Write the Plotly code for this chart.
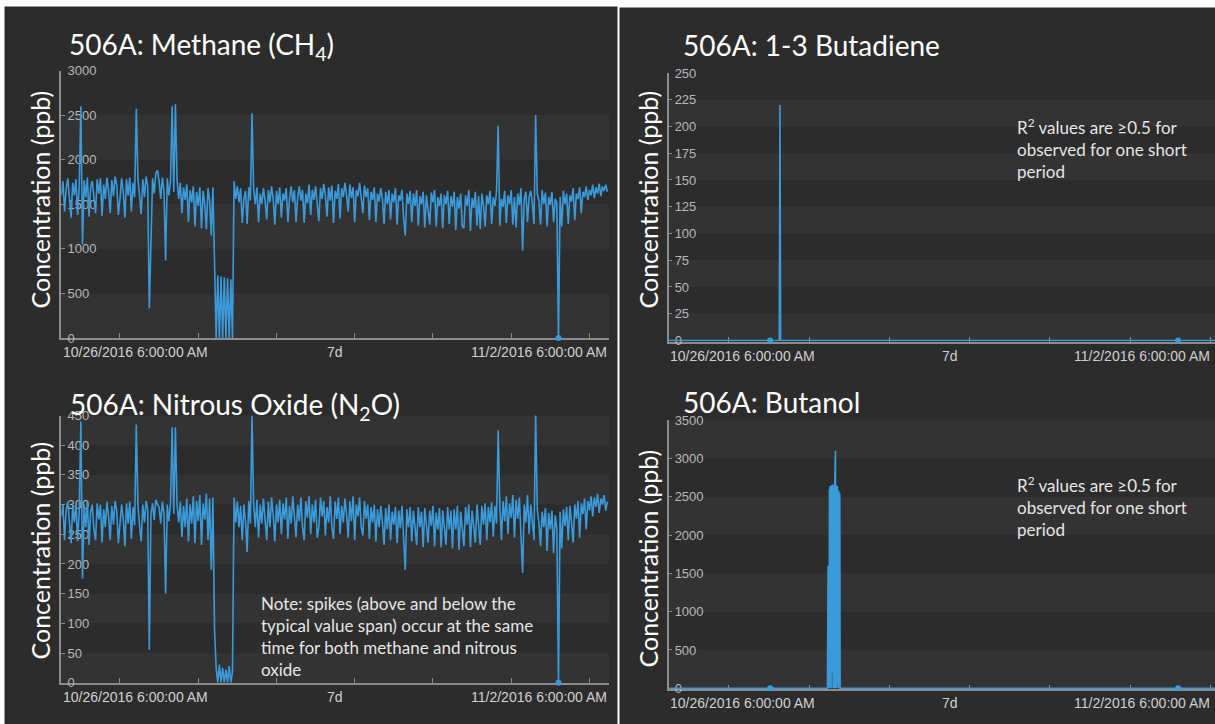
import pandas as pd
import plotly.graph_objects as go

W, H = 1215, 724
START = pd.Timestamp("2016-10-26 06:00")
END7 = pd.Timestamp("2016-11-02 06:00")

# ---- data (30-minute readings from 10/26/2016 06:00) ----
methane_ppb = [
    1600,1760,1420,1680,1790,1560,1350,1740,1600,1780,1380,1700,2600,1050,1770,1580,1800,1360,1690,1760,1540,1400,1780,1620,
    1790,1370,1720,1560,1800,1650,1400,1770,1590,1810,1720,1380,1560,1790,1640,1350,1780,1600,1800,1420,1740,1580,2570,1790,
    1600,1390,1780,1580,1810,1700,330,990,1790,1620,1850,1880,1760,1560,1800,1650,870,1790,1600,1760,2600,1640,2620,1780,
    1560,1740,1400,1690,1550,1720,1300,1660,1520,1700,1250,1640,1480,1690,1230,1650,1500,1220,1680,1540,1150,1690,750,0,
    700,0,690,0,680,0,670,0,660,0,1760,1560,1700,1520,1680,1290,1560,1650,1280,1690,1540,2520,1660,1500,
    1690,1300,1620,1500,1680,1540,1330,1660,1520,1700,1560,1270,1650,1500,1690,1350,1620,1540,1680,1300,1560,1700,1520,1660,
    1300,1580,1700,1540,1660,1290,1620,1510,1720,1380,1660,1550,1700,1520,1310,1680,1560,1730,1600,1360,1690,1540,1710,1290,
    1650,1560,1730,1340,1680,1580,1740,1600,1420,1720,1570,1690,1300,1660,1590,1740,1560,1400,1710,1580,1680,1320,1640,1550,
    1690,1300,1620,1530,1680,1560,1280,1640,1500,1660,1330,1620,1520,1680,1270,1600,1540,1660,1350,1150,1620,1500,1650,1300,
    1620,1480,1660,1260,1590,1500,1640,1240,1600,1460,1270,1630,1520,1660,1250,1580,1480,1620,1230,1600,1500,1650,1280,1590,
    1470,1640,1210,1580,1450,1620,1250,1230,1600,1480,1660,1200,1570,1460,1640,1260,1590,1220,1620,1480,1250,1600,1500,1650,
    1280,1580,1480,1640,2380,1260,1560,1470,1650,1290,1600,1500,1660,1270,1580,1240,1620,1490,1680,980,1560,1640,1300,1580,
    1650,1500,1280,2500,1620,1540,1270,1660,1500,1630,1250,1580,1490,1640,1300,1560,1520,0,1580,1250,1650,1500,1620,1280,
    1600,1530,1680,1320,1620,1560,1690,1400,1640,1580,1700,1550,1660,1600,1720,1570,1690,1620,1730,1590,1700,1650,1720,1640,
]
n2o_ppb = [
    280,300,240,292,305,265,235,298,270,302,238,290,440,175,300,262,305,232,288,300,258,240,302,275,
    300,236,292,262,305,280,240,298,266,306,290,235,262,300,276,230,302,268,305,242,296,265,435,300,
    265,238,300,270,306,292,55,285,302,274,308,300,296,268,305,285,150,300,272,302,430,284,430,300,
    270,305,245,298,262,310,238,300,268,314,235,306,272,316,232,302,275,318,240,310,190,312,90,25,
    0,30,0,25,0,22,0,28,0,18,312,270,305,262,298,240,300,272,220,306,268,450,300,262,
    308,244,300,268,310,276,240,305,262,312,282,238,300,270,308,250,302,275,312,242,298,268,314,280,
    245,300,272,312,262,240,306,278,314,250,300,270,308,244,262,312,280,306,248,296,270,314,262,242,
    305,276,312,250,298,270,310,284,244,306,272,314,240,300,280,312,262,248,306,276,300,242,296,270,
    300,238,292,262,298,270,232,294,258,300,240,288,266,296,235,290,260,298,242,190,292,262,296,238,
    290,256,232,296,262,288,228,294,260,236,290,264,298,230,286,258,294,228,290,262,232,296,258,290,
    226,292,258,298,224,288,262,230,296,266,300,228,290,260,236,300,270,232,298,266,302,240,296,270,
    304,246,298,268,425,300,240,306,272,314,250,302,278,316,244,308,276,312,248,185,300,270,316,250,
    300,262,240,455,292,270,230,288,262,294,222,286,258,290,218,282,260,0,288,226,292,264,296,240,
    298,270,236,300,276,306,244,302,284,310,258,306,290,314,280,312,296,318,286,310,300,316,290,305,
]
# hours after 10/26/2016 06:00
butadiene_hours = [0, 30.3, 33.1, 33.3, 33.5, 152.3, 168]
butadiene_ppb = [0, 0, 0, 220, 0, 0, 0]
butanol_hours = [0, 30.6, 47.5, 47.7, 47.85,
                 48.0, 48.1, 48.2, 48.3, 48.4, 48.5, 48.6, 48.7, 48.8, 48.9,
                 49.0, 49.1, 49.2, 49.3, 49.4, 49.5, 49.6, 49.7, 49.8, 49.9,
                 50.0, 50.1, 50.2, 50.3, 50.4, 50.5, 50.6, 50.7, 50.8, 50.9,
                 51.0, 51.1, 51.2, 51.3, 152.3, 168]
butanol_ppb = [0, 0, 0, 1600, 0,
               0, 2600, 0, 2640, 100, 2600, 0, 2650, 200, 2620,
               0, 2660, 0, 2600, 150, 2650, 0, 2700, 0, 3100,
               0, 2650, 0, 2620, 100, 2640, 0, 2600, 0, 2580,
               0, 2550, 2500, 0, 0, 0]
left_dot_hours, left_dot_ppb = [152.5], [0]
right_dot_hours, right_dot_ppb = [30.4, 152.3], [0, 0]

titles = ["506A: Methane (CH<sub>4</sub>)", "506A: Nitrous Oxide (N<sub>2</sub>O)",
          "506A: 1-3 Butadiene", "506A: Butanol"]
ytitle = "Concentration (ppb)"
xlabels = ["10/26/2016 6:00:00 AM", "7d", "11/2/2016 6:00:00 AM"]
note_left = "Note: spikes (above and below the<br>typical value span) occur at the same<br>time for both methane and nitrous<br>oxide"
note_right = "R<sup>2</sup> values are ≥0.5 for<br>observed for one short<br>period"

# ---- styling ----
BLUE = "#3b9ada"
AX = "#8c8c8c"
PANEL = "#2c2c2c"
PLOTBG = "#292929"
BAND = "#333333"

def hrs(h):
    return [START + pd.Timedelta(hours=v) for v in h]

def grid(vals):
    return list(pd.date_range(START, periods=len(vals), freq="30min"))

def px(x):
    return x / W

def py(y):
    return 1 - y / H

midnights = list(pd.date_range("2016-10-27", "2016-11-02", freq="D"))
right_end = START + pd.Timedelta(days=(1215 - 668.5) / 80.3)

panels = [
    dict(x0=61.3, x1=609, yt=70.5, yb=338, ymax=3000, dt=500, xend=END7, ymin=0),
    dict(x0=61.3, x1=609, yt=415.5, yb=682.7, ymax=450, dt=50, xend=END7, ymin=0),
    dict(x0=668.5, x1=1215, yt=73, yb=341.5, ymax=250, dt=25, xend=right_end, ymin=-1),
    dict(x0=668.5, x1=1215, yt=420.2, yb=689.3, ymax=3500, dt=500, xend=right_end, ymin=-14),
]

fig = go.Figure()

series = [
    (grid(methane_ppb), methane_ppb, hrs(left_dot_hours), left_dot_ppb),
    (grid(n2o_ppb), n2o_ppb, hrs(left_dot_hours), left_dot_ppb),
    (hrs(butadiene_hours), butadiene_ppb, hrs(right_dot_hours), right_dot_ppb),
    (hrs(butanol_hours), butanol_ppb, hrs(right_dot_hours), right_dot_ppb),
]

shapes = [
    dict(type="rect", xref="paper", yref="paper", x0=px(4.5), x1=px(617.5), y0=0, y1=py(6.5),
         fillcolor=PANEL, line=dict(width=0), layer="below"),
    dict(type="rect", xref="paper", yref="paper", x0=px(619.5), x1=1, y0=0, y1=py(7.5),
         fillcolor=PANEL, line=dict(width=0), layer="below"),
]
annotations = []

for i, (p, (sx, sy, dx, dy)) in enumerate(zip(panels, series)):
    n = "" if i == 0 else str(i + 1)
    xa, ya = "x" + n, "y" + n
    fig.add_trace(go.Scatter(x=sx, y=sy, mode="lines", line=dict(color=BLUE, width=1.6),
                             xaxis=xa, yaxis=ya, showlegend=False, hoverinfo="skip", cliponaxis=False))
    fig.add_trace(go.Scatter(x=dx, y=dy, mode="markers", marker=dict(color=BLUE, size=6),
                             xaxis=xa, yaxis=ya, showlegend=False, hoverinfo="skip", cliponaxis=False))
    fig.layout["xaxis" + n] = dict(
        domain=[px(p["x0"]), min(1, px(p["x1"]))], anchor=ya, type="date",
        range=[START, p["xend"]], tickmode="array", tickvals=midnights, showticklabels=False,
        ticks="inside", ticklen=5, tickwidth=1, tickcolor=AX, showline=True, linecolor=AX,
        linewidth=1.5, showgrid=False, zeroline=False, automargin=False, layer="below traces")
    tv = list(range(0, p["ymax"] + 1, p["dt"]))
    fig.layout["yaxis" + n] = dict(
        domain=[py(p["yb"]), py(p["yt"])], anchor=xa, range=[p["ymin"], p["ymax"]],
        tickmode="array", tickvals=tv, ticktext=[str(v) for v in tv],
        ticks="inside", ticklen=4, tickcolor=AX, ticklabelposition="inside",
        ticklabeloverflow="allow", ticklabelstandoff=2,
        tickfont=dict(family="Liberation Sans", size=13, color="#b8b8b8"),
        showline=True, linecolor=AX, linewidth=1.5, showgrid=False, zeroline=False,
        automargin=False, layer="below traces")
    for k in range(0, p["ymax"] // p["dt"], 2):
        shapes.append(dict(type="rect", xref=xa + " domain", yref=ya, x0=0, x1=1,
                           y0=k * p["dt"], y1=(k + 1) * p["dt"], fillcolor=BAND,
                           line=dict(width=0), layer="below"))
    lab_y = p["yb"] + 14
    fnt = dict(family="Liberation Sans", size=14, color="#d0d0d0")
    annotations.append(dict(x=px(p["x0"]), y=py(lab_y), xref="paper", yref="paper",
                            text=xlabels[0], showarrow=False, xanchor="left", yanchor="middle", font=fnt))
    annotations.append(dict(x=START + pd.Timedelta(days=3.5), y=py(lab_y), xref=xa, yref="paper",
                            text=xlabels[1], showarrow=False, xanchor="center", yanchor="middle", font=fnt))
    annotations.append(dict(x=px(min(p["x1"], 1212)), y=py(lab_y), xref="paper", yref="paper",
                            text=xlabels[2], showarrow=False, xanchor="right", yanchor="middle", font=fnt))

title_pos = [(67, 46), (68, 406), (681, 45), (681, 402)]
for t, (x, y) in zip(titles, title_pos):
    annotations.append(dict(x=px(x), y=py(y), xref="paper", yref="paper", text=t, showarrow=False,
                            xanchor="left", yanchor="middle",
                            font=dict(family="Lato", size=28, color="#ffffff")))
yt_pos = [(39.5, 200), (39.5, 551), (647.5, 200), (647.5, 559)]
for x, y in yt_pos:
    annotations.append(dict(x=px(x), y=py(y), xref="paper", yref="paper", text=ytitle, showarrow=False,
                            textangle=-90, xanchor="center", yanchor="middle",
                            font=dict(family="Lato", size=25, color="#ffffff")))
annotations.append(dict(x=px(259), y=py(591), xref="paper", yref="paper", text=note_left, showarrow=False,
                        xanchor="left", yanchor="top", align="left",
                        font=dict(family="Lato", size=17, color="#e6e6e6")))
for yy in (113, 471):
    annotations.append(dict(x=px(1015), y=py(yy), xref="paper", yref="paper", text=note_right,
                            showarrow=False, xanchor="left", yanchor="top", align="left",
                            font=dict(family="Lato", size=17, color="#e6e6e6")))

fig.update_layout(width=W, height=H,
                  margin=dict(l=0, r=0, t=0, b=0, pad=0, autoexpand=False),
                  paper_bgcolor="#ffffff", plot_bgcolor=PLOTBG,
                  shapes=shapes, annotations=annotations, showlegend=False)
fig.write_html("out.html", config={"displayModeBar": False},
               post_script="document.body.style.margin='0';")
